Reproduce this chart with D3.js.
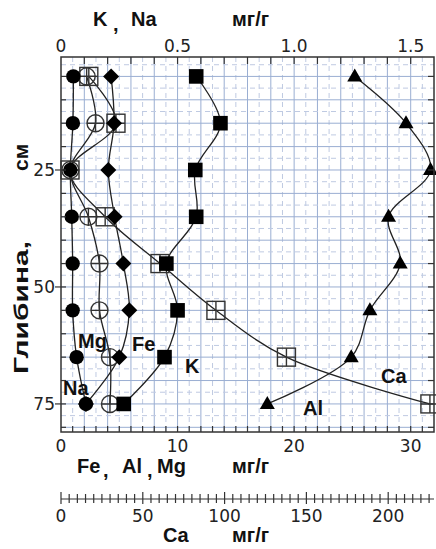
<!DOCTYPE html>
<html><head><meta charset="utf-8">
<script src="https://cdn.jsdelivr.net/npm/d3@7"></script>
<style>body{margin:0;background:#fff}svg{display:block}</style>
</head><body><svg id="c" width="436" height="549"></svg>
<script>
// ---- data ----
const depths = [5, 15, 25, 35, 45, 55, 65, 75];           // см
const naVals = [0.053, 0.051, 0.040, 0.046, 0.050, 0.050, 0.067, 0.107]; // мг/г (top axis)
const kVals  = [0.580, 0.684, 0.576, 0.580, 0.452, 0.500, 0.444, 0.269]; // мг/г (top axis)
const feVals = [4.30, 4.55, 4.06, 4.60, 5.35, 5.86, 5.00, 2.14];        // мг/г (bottom axis)
const mgVals = [2.20, 2.96, 0.80, 2.35, 3.30, 3.30, 4.20, 4.20];        // мг/г (bottom axis)
const alVals = [25.2, 29.6, 31.7, 28.1, 29.1, 26.5, 24.9, 17.7];        // мг/г (bottom axis)
const caVals = [17.0, 33.6, 5.5, 27.0, 60.5, 94.7, 137.8, 225.5];       // мг/г (Ca axis)
const topTicks = [0, 0.5, 1.0, 1.5];
const topTickLabels = ["0", "0.5", "1.0", "1.5"];
const bottomTicks = [0, 10, 20, 30];
const caTicks = [0, 50, 100, 150, 200];
const depthTicks = [25, 50, 75];

// ---- layout ----
const L = 61, R = 434, T = 57, B = 432;
const svg = d3.select("#c");
const xTop = d3.scaleLinear().domain([0, 1.6]).range([L, R]);
const xBot = d3.scaleLinear().domain([0, 32]).range([L, R]);
const xCa  = d3.scaleLinear().domain([0, 228]).range([L, R]);
const y    = d3.scaleLinear().domain([0.85, 81]).range([T, B]);

const tickFont = "'DejaVu Sans', sans-serif";
const boldFont = "'Liberation Sans', Arial, sans-serif";

// ---- grid ----
const g = svg.append("g");
d3.range(1, 32).forEach(v => {
  const solid = v % 2 === 0;
  g.append("line").attr("x1", xBot(v)).attr("x2", xBot(v)).attr("y1", T).attr("y2", B)
    .attr("stroke", solid ? "#9aaed2" : "#bfcae2").attr("stroke-width", 1)
    .attr("stroke-dasharray", solid ? null : "5,4");
});
d3.range(2.5, 81, 2.5).forEach(v => {
  const solid = v % 5 === 0;
  g.append("line").attr("x1", L).attr("x2", R).attr("y1", y(v)).attr("y2", y(v))
    .attr("stroke", solid ? "#9aaed2" : "#bfcae2").attr("stroke-width", 1)
    .attr("stroke-dasharray", solid ? null : "5,4");
});

// ---- curves ----
const series = [
  {vals: alVals, sx: xBot},
  {vals: caVals, sx: xCa},
  {vals: mgVals, sx: xBot},
  {vals: feVals, sx: xBot},
  {vals: kVals,  sx: xTop},
  {vals: naVals, sx: xTop}
];
const line = d3.line().curve(d3.curveCatmullRom.alpha(0.5));
series.forEach(s => {
  svg.append("path")
    .attr("d", line(s.vals.map((v, i) => [s.sx(v), y(depths[i])])))
    .attr("fill", "none").attr("stroke", "#222").attr("stroke-width", 1.3);
});

// ---- markers ----
const mk = svg.append("g");
alVals.forEach((v, i) => {
  const cx = xBot(v), cy = y(depths[i]);
  mk.append("path").attr("d", `M${cx},${cy-8}L${cx+7.5},${cy+5}L${cx-7.5},${cy+5}Z`).attr("fill", "#000");
});
caVals.forEach((v, i) => {
  const cx = xCa(v), cy = y(depths[i]), h = 9;
  mk.append("rect").attr("x", cx-h).attr("y", cy-h).attr("width", 2*h).attr("height", 2*h)
    .attr("fill", "none").attr("stroke", "#333").attr("stroke-width", 1.4);
  mk.append("path").attr("d", `M${cx-h},${cy}H${cx+h}M${cx},${cy-h}V${cy+h}`)
    .attr("stroke", "#333").attr("stroke-width", 1.4);
});
mgVals.forEach((v, i) => {
  const cx = xBot(v), cy = y(depths[i]), r = 8.5;
  mk.append("circle").attr("cx", cx).attr("cy", cy).attr("r", r)
    .attr("fill", "none").attr("stroke", "#333").attr("stroke-width", 1.4);
  mk.append("path").attr("d", `M${cx-r},${cy}H${cx+r}M${cx},${cy-r}V${cy+r}`)
    .attr("stroke", "#333").attr("stroke-width", 1.4);
});
feVals.forEach((v, i) => {
  const cx = xBot(v), cy = y(depths[i]), h = 8;
  mk.append("path").attr("d", `M${cx},${cy-h}L${cx+h},${cy}L${cx},${cy+h}L${cx-h},${cy}Z`).attr("fill", "#000");
});
kVals.forEach((v, i) => {
  const cx = xTop(v), cy = y(depths[i]), h = 7.3;
  mk.append("rect").attr("x", cx-h).attr("y", cy-h).attr("width", 2*h).attr("height", 2*h).attr("fill", "#000");
});
naVals.forEach((v, i) => {
  mk.append("circle").attr("cx", xTop(v)).attr("cy", y(depths[i])).attr("r", 7.2).attr("fill", "#000");
});

// ---- frame & ticks ----
svg.append("rect").attr("x", L).attr("y", T).attr("width", R-L).attr("height", B-T)
  .attr("fill", "none").attr("stroke", "#333").attr("stroke-width", 1.5);
const tk = svg.append("g").attr("stroke", "#333").attr("stroke-width", 1.2);
d3.range(1, 16).forEach(i => { const v = i/10;
  tk.append("line").attr("x1", xTop(v)).attr("x2", xTop(v)).attr("y1", T).attr("y2", T+7); });
d3.range(1, 32).forEach(v => {
  tk.append("line").attr("x1", xBot(v)).attr("x2", xBot(v)).attr("y1", B).attr("y2", B-6); });
d3.range(5, 81, 5).forEach(v => {
  tk.append("line").attr("x1", R).attr("x2", R-6).attr("y1", y(v)).attr("y2", y(v));
  tk.append("line").attr("x1", L).attr("x2", L+5).attr("y1", y(v)).attr("y2", y(v));
});
depthTicks.forEach(v => {
  tk.append("line").attr("x1", L).attr("x2", L-6).attr("y1", y(v)).attr("y2", y(v)); });

// ---- tick labels ----
const tl = svg.append("g").attr("font-family", tickFont).attr("font-size", 17).attr("fill", "#222");
topTicks.forEach((v, i) => tl.append("text").attr("x", xTop(v)).attr("y", 52).attr("text-anchor", "middle").text(topTickLabels[i]));
bottomTicks.forEach(v => tl.append("text").attr("x", xBot(v)).attr("y", 452).attr("text-anchor", "middle").text(v));
depthTicks.forEach(v => tl.append("text").attr("x", L-6).attr("y", y(v)+6).attr("text-anchor", "end").text(v));

// ---- Ca axis ----
const ca = svg.append("g").attr("stroke", "#333").attr("stroke-width", 1.2);
ca.append("line").attr("x1", L).attr("x2", R).attr("y1", 499).attr("y2", 499);
d3.range(0, 229, 5).forEach(v => {
  const big = v % 50 === 0;
  ca.append("line").attr("x1", xCa(v)).attr("x2", xCa(v))
    .attr("y1", 499 - (big ? 7 : 5)).attr("y2", 499 + (big ? 5 : 4));
});
caTicks.forEach(v => tl.append("text").attr("x", xCa(v)).attr("y", 522).attr("text-anchor", "middle").text(v));

// ---- titles ----
const bt = svg.append("g").attr("font-family", boldFont).attr("font-weight", "bold").attr("font-size", 20).attr("fill", "#111");
bt.append("text").attr("x", 93).attr("y", 26).text("K");
bt.append("text").attr("x", 113).attr("y", 31).text(",");
bt.append("text").attr("x", 131).attr("y", 26).text("Na");
bt.append("text").attr("x", 232).attr("y", 26).text("мг/г");

bt.append("text").attr("x", 77).attr("y", 473).text("Fe");
bt.append("text").attr("x", 103).attr("y", 477).text(",");
bt.append("text").attr("x", 122).attr("y", 473).text("Al");
bt.append("text").attr("x", 147).attr("y", 477).text(",");
bt.append("text").attr("x", 157).attr("y", 473).text("Mg");
bt.append("text").attr("x", 232).attr("y", 473).text("мг/г");

bt.append("text").attr("x", 163).attr("y", 542).text("Ca");
bt.append("text").attr("x", 232).attr("y", 542).text("мг/г");

bt.append("text").attr("transform", "translate(28,374) rotate(-90)")
  .attr("font-size", 21).attr("textLength", 133).attr("lengthAdjust", "spacingAndGlyphs").text("Глибина,");
bt.append("text").attr("transform", "translate(28,171) rotate(-90)").attr("font-size", 21).text("см");

// series labels inside plot
bt.append("text").attr("x", 63).attr("y", 395).text("Na");
bt.append("text").attr("x", 78).attr("y", 348).text("Mg");
bt.append("text").attr("x", 132).attr("y", 351).text("Fe");
bt.append("text").attr("x", 185).attr("y", 373).text("K");
bt.append("text").attr("x", 381).attr("y", 383).text("Ca");
bt.append("text").attr("x", 303).attr("y", 415).text("Al");
</script></body></html>
